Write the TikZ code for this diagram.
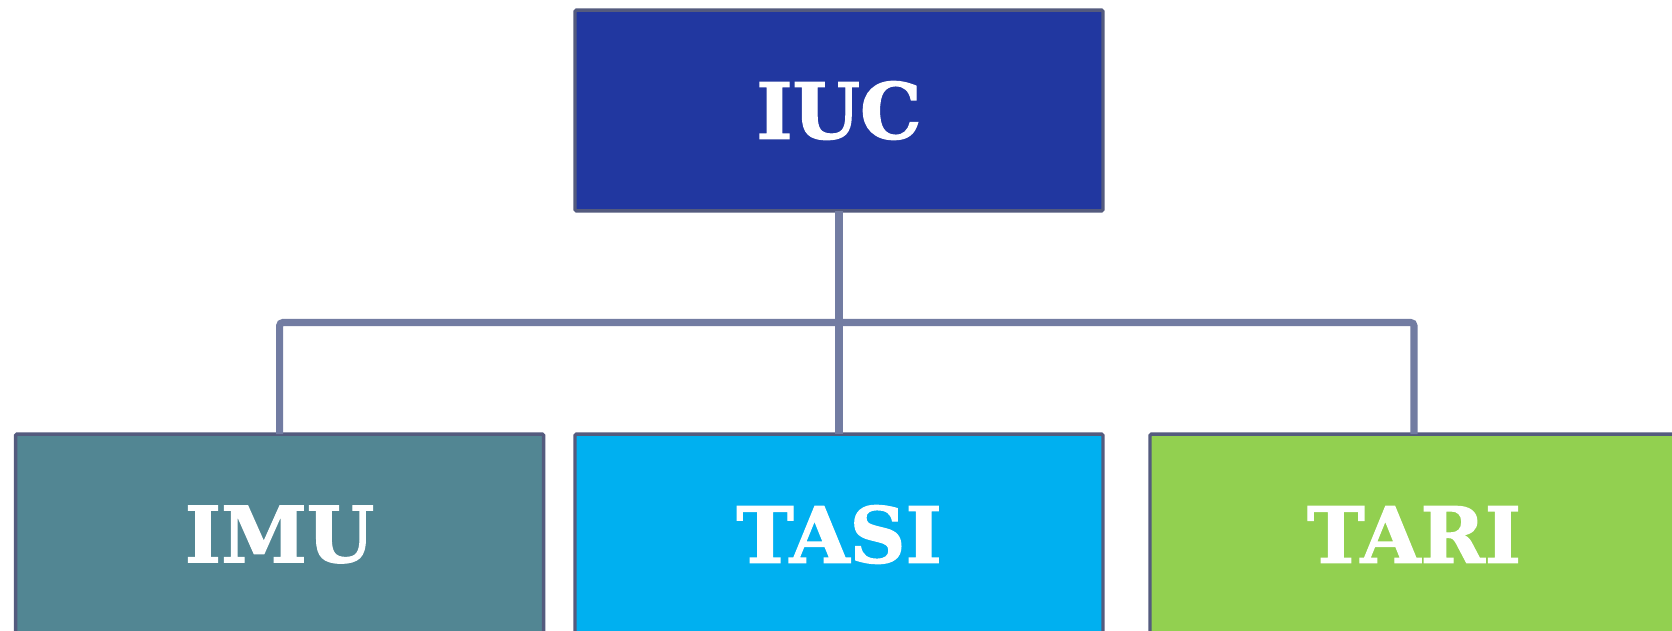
\documentclass[tikz,border=0pt]{standalone}
\usepackage{fontspec}
\newfontfamily\boxfont[BoldFont={DejaVu Serif Bold}, BoldFeatures={FakeBold=1.6}]{DejaVu Serif}
\definecolor{topblue}{HTML}{2137A0}
\definecolor{imuteal}{HTML}{528693}
\definecolor{tasiblue}{HTML}{00B0F0}
\definecolor{tarigreen}{HTML}{92D050}
\definecolor{boxborder}{HTML}{545B7E}
\definecolor{connline}{HTML}{727CA2}
\tikzset{
  orgbox/.style={draw=boxborder, line width=2.6pt, rounded corners=1pt,
    minimum width=396pt, minimum height=150.5pt, outer sep=0pt, inner sep=0pt,
    text=white, font=\boxfont\bfseries\fontsize{58pt}{60pt}\selectfont},
  conn/.style={draw=connline, line width=5.3pt, rounded corners=2.5pt}
}
\begin{document}
\begin{tikzpicture}[x=0.75pt,y=-0.75pt]
\clip (0,0) rectangle (1672,631);
\useasboundingbox (0,0) rectangle (1672,631);
\fill[white] (0,0) rectangle (1672,631);
\node[orgbox, fill=topblue] (iuc) at (839,110.5) {IUC};
\node[orgbox, fill=imuteal] (imu) at (279.6,534.5) {IMU};
\node[orgbox, fill=tasiblue] (tasi) at (839,534.5) {TASI};
\node[orgbox, fill=tarigreen] (tari) at (1414,534.5) {TARI};
\coordinate (bus) at (839,322.5);
\draw[conn] (imu.north) -- (imu.north |- bus) -- (tari.north |- bus) -- (tari.north);
\draw[conn] (iuc.south) -- (tasi.north);
\end{tikzpicture}
\end{document}
